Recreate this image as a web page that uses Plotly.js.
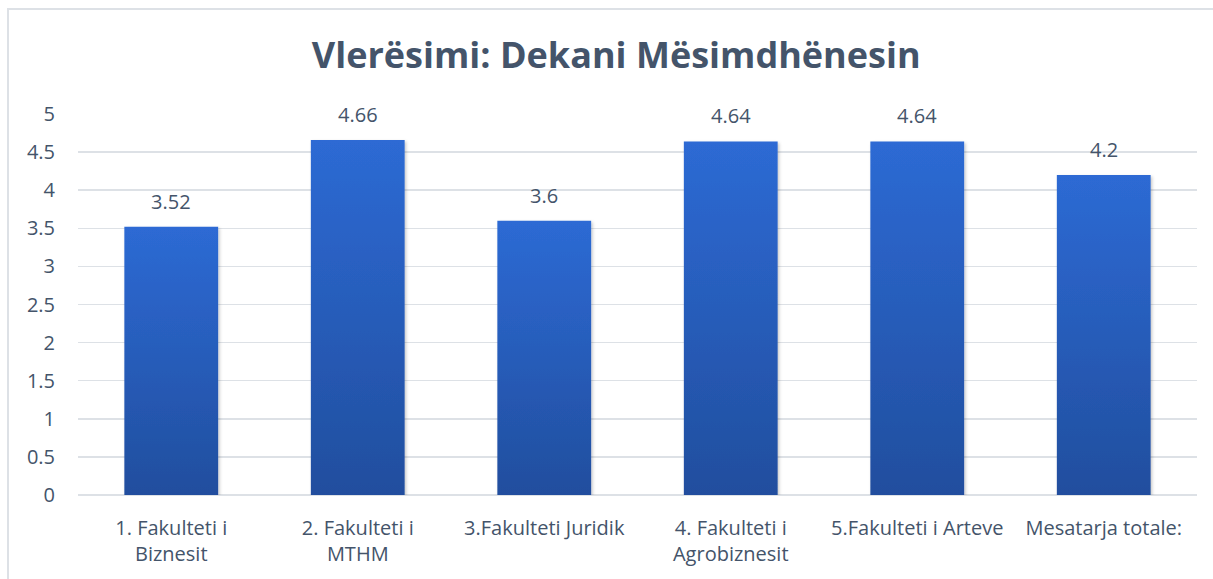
<!DOCTYPE html>
<html>
<head>
<meta charset="utf-8">
<script src="https://cdn.plot.ly/plotly-3.0.1.min.js"></script>
<style>
  html, body { margin: 0; padding: 0; background: #ffffff; overflow: hidden; }
  #frame { position: absolute; left: 7px; top: 8px; width: 1400px; height: 800px; border-left: 2px solid #DDE1E6; border-top: 2px solid #DDE1E6; }
  #chart { position: absolute; left: 0; top: 0; width: 1213px; height: 579px; }
</style>
</head>
<body>
<div id="frame"></div>
<div id="chart"></div>
<script>
const categories = [
  "1. Fakulteti i<br>Biznesit",
  "2. Fakulteti i<br>MTHM",
  "3.Fakulteti Juridik",
  "4. Fakulteti i<br>Agrobiznesit",
  "5.Fakulteti i Arteve",
  "Mesatarja totale:"
];
const values = [3.52, 4.66, 3.6, 4.64, 4.64, 4.2];
const valueLabels = ["3.52", "4.66", "3.6", "4.64", "4.64", "4.2"];
const yTickVals = [0, 0.5, 1, 1.5, 2, 2.5, 3, 3.5, 4, 4.5, 5];
const yTickText = ["0", "0.5", "1", "1.5", "2", "2.5", "3", "3.5", "4", "4.5", "5"];
const titleText = "Vlerësimi: Dekani Mësimdhënesin";

const textColor = "#44546A";
const fontFam = "'Open Sans', 'Noto Sans', sans-serif";

const trace = {
  type: "bar",
  x: categories,
  y: values,
  marker: { color: "#2A5EBE", line: { width: 0 } },
  hoverinfo: "none"
};

const annotations = categories.map((c, i) => ({
  x: c, y: values[i], xref: "x", yref: "y",
  text: valueLabels[i], showarrow: false,
  yanchor: "bottom", yshift: 10,
  font: { family: fontFam, size: 20, color: textColor }
}));

const layout = {
  width: 1213, height: 579,
  margin: { l: 78, r: 16, t: 114, b: 84 },
  paper_bgcolor: "rgba(0,0,0,0)",
  plot_bgcolor: "rgba(0,0,0,0)",
  bargap: 0.497,
  showlegend: false,
  title: {
    text: "<b>" + titleText + "</b>",
    x: 0.508, xanchor: "center",
    y: 0.905, yanchor: "middle",
    font: { family: fontFam, size: 36, color: textColor }
  },
  xaxis: {
    type: "category",
    showgrid: false, showline: false, zeroline: false,
    ticks: "outside", ticklen: 15, tickcolor: "rgba(0,0,0,0)",
    tickfont: { family: fontFam, size: 20, color: textColor },
    fixedrange: true
  },
  yaxis: {
    range: [0, 5],
    tickmode: "array", tickvals: yTickVals, ticktext: yTickText,
    showgrid: true, gridcolor: "#DDE1E6", gridwidth: 1.5,
    zeroline: true, zerolinecolor: "#DDE1E6", zerolinewidth: 1.5,
    showline: false,
    ticks: "outside", ticklen: 18, tickcolor: "rgba(0,0,0,0)",
    tickfont: { family: fontFam, size: 20, color: textColor },
    fixedrange: true
  },
  annotations: annotations
};

Plotly.newPlot("chart", [trace], layout, { displayModeBar: false, staticPlot: true }).then(function (gd) {
  const svgNS = "http://www.w3.org/2000/svg";
  const svg = gd.querySelector("svg.main-svg");
  let defs = svg.querySelector("defs");
  if (!defs) { defs = document.createElementNS(svgNS, "defs"); svg.insertBefore(defs, svg.firstChild); }
  const grad = document.createElementNS(svgNS, "linearGradient");
  grad.setAttribute("id", "barGrad");
  grad.setAttribute("x1", "0"); grad.setAttribute("y1", "0");
  grad.setAttribute("x2", "0"); grad.setAttribute("y2", "1");
  [["0%", "#2D6AD4"], ["100%", "#214E9E"]].forEach(function (s) {
    const st = document.createElementNS(svgNS, "stop");
    st.setAttribute("offset", s[0]); st.setAttribute("stop-color", s[1]);
    grad.appendChild(st);
  });
  defs.appendChild(grad);
  const filt = document.createElementNS(svgNS, "filter");
  filt.setAttribute("id", "barShadow");
  filt.setAttribute("x", "-10%"); filt.setAttribute("y", "-10%");
  filt.setAttribute("width", "125%"); filt.setAttribute("height", "125%");
  const ds = document.createElementNS(svgNS, "feDropShadow");
  ds.setAttribute("dx", "1.5"); ds.setAttribute("dy", "1.5");
  ds.setAttribute("stdDeviation", "1.5");
  ds.setAttribute("flood-color", "#000"); ds.setAttribute("flood-opacity", "0.22");
  filt.appendChild(ds);
  defs.appendChild(filt);
  gd.querySelectorAll(".bars path").forEach(function (p) {
    p.style.fill = "url(#barGrad)";
    p.setAttribute("filter", "url(#barShadow)");
  });
});
</script>
</body>
</html>
